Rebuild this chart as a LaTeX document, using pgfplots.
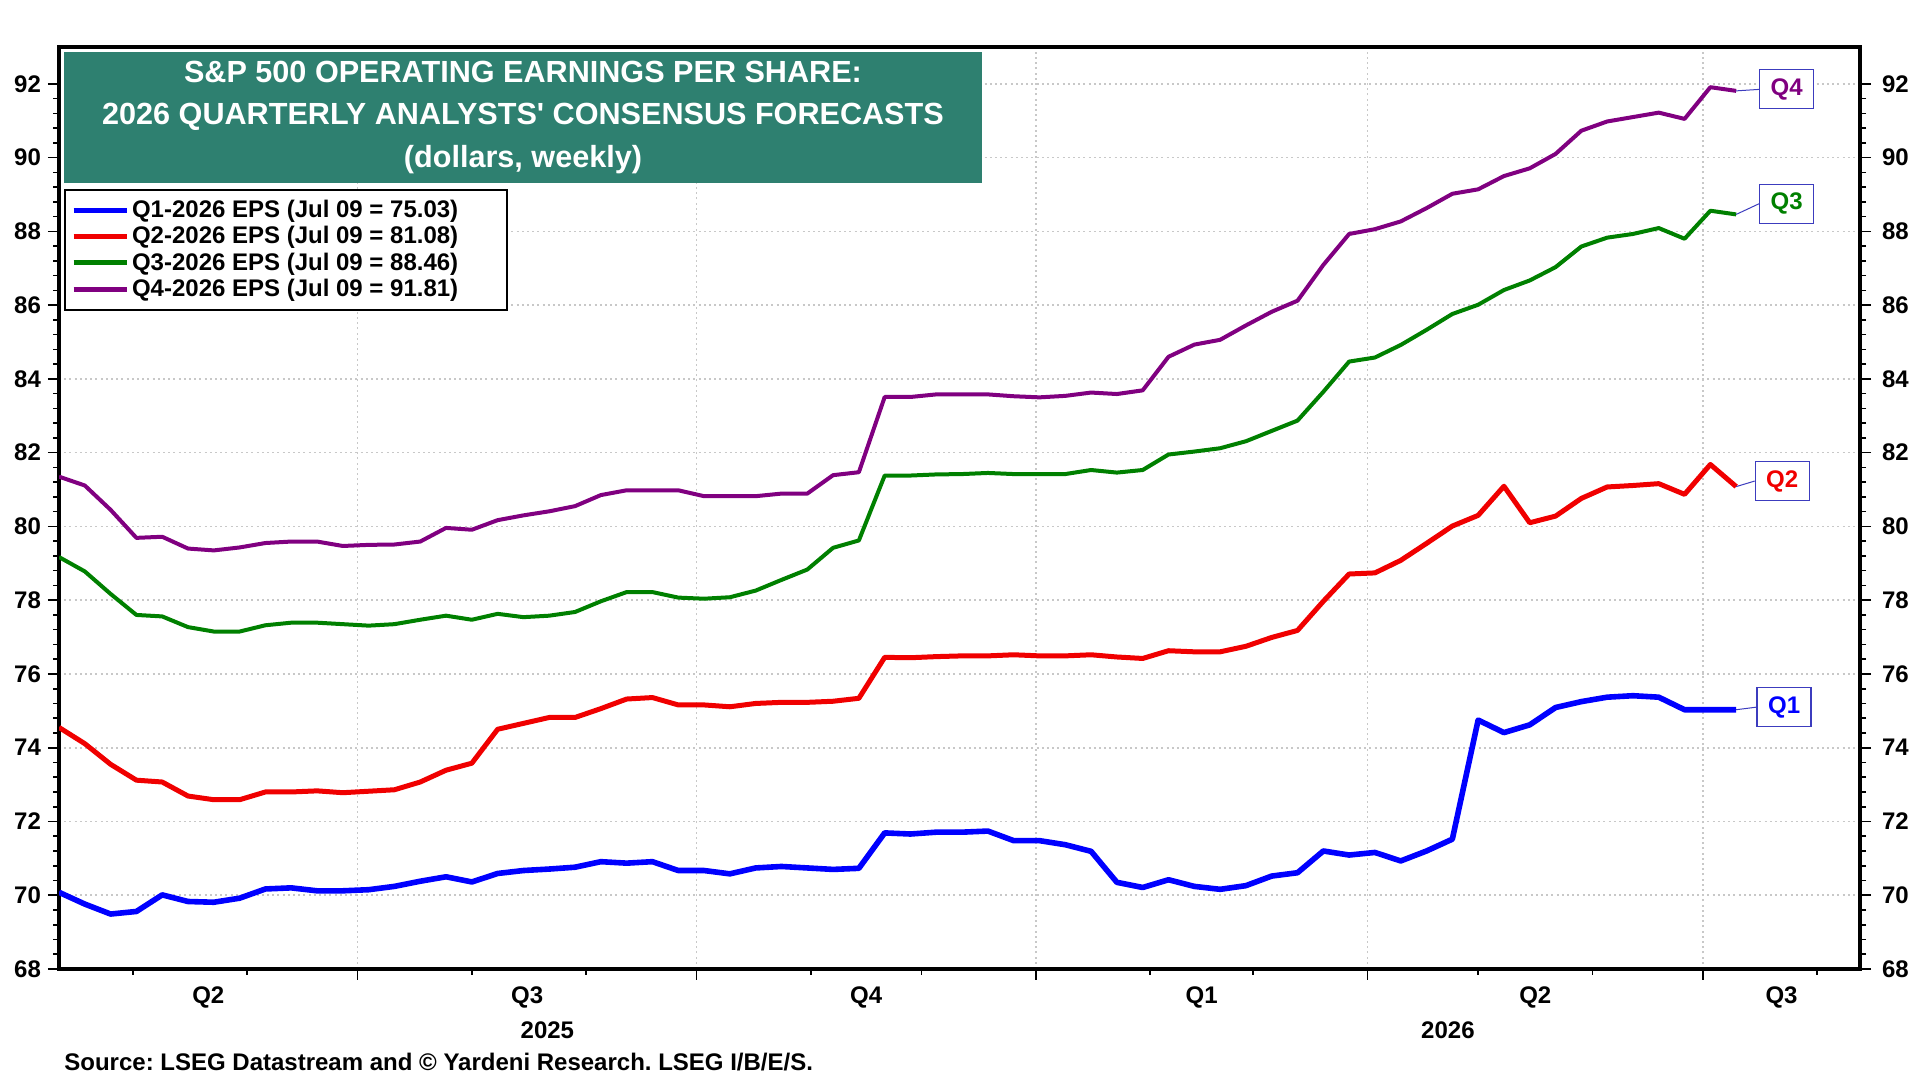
\documentclass[border=0pt]{standalone}
\usepackage{fontspec}
\setmainfont{Liberation Sans}
\usepackage{pgfplots}
\usepackage{pgfplotstable}
\pgfplotsset{compat=1.18}
\frenchspacing
\definecolor{teal1}{RGB}{46,128,112}
\definecolor{qblue}{RGB}{0,0,255}
\definecolor{qred}{RGB}{240,0,0}
\definecolor{qgreen}{RGB}{0,128,0}
\definecolor{qpurple}{RGB}{128,0,128}
\definecolor{boxblue}{RGB}{60,60,190}
\definecolor{gridgray}{RGB}{200,200,200}

\pgfplotstableread{
day q1 q2 q3 q4
100 70.08 74.55 79.17 81.35
107 69.76 74.11 78.78 81.11
114 69.49 73.55 78.17 80.45
121 69.56 73.12 77.60 79.69
128 70.01 73.07 77.56 79.72
135 69.83 72.69 77.27 79.40
142 69.81 72.59 77.15 79.35
149 69.92 72.59 77.15 79.43
156 70.17 72.80 77.32 79.55
163 70.20 72.80 77.39 79.59
170 70.12 72.83 77.39 79.59
177 70.12 72.78 77.35 79.47
184 70.15 72.82 77.31 79.50
191 70.24 72.86 77.35 79.51
198 70.38 73.07 77.47 79.59
205 70.50 73.39 77.58 79.96
212 70.36 73.58 77.47 79.91
219 70.59 74.50 77.63 80.17
226 70.67 74.66 77.54 80.30
233 70.71 74.82 77.58 80.41
240 70.76 74.82 77.68 80.55
247 70.91 75.06 77.97 80.85
254 70.87 75.32 78.22 80.98
261 70.91 75.36 78.22 80.98
268 70.67 75.16 78.07 80.98
275 70.67 75.16 78.04 80.82
282 70.58 75.11 78.08 80.82
289 70.74 75.20 78.26 80.82
296 70.78 75.23 78.55 80.89
303 70.74 75.23 78.83 80.89
310 70.70 75.26 79.42 81.39
317 70.73 75.34 79.62 81.47
324 71.69 76.45 81.38 83.51
331 71.66 76.44 81.38 83.51
338 71.71 76.47 81.41 83.58
345 71.71 76.49 81.42 83.58
352 71.74 76.49 81.45 83.58
359 71.48 76.52 81.42 83.53
366 71.48 76.49 81.42 83.50
373 71.37 76.49 81.42 83.54
380 71.19 76.52 81.53 83.63
387 70.35 76.46 81.46 83.59
394 70.21 76.42 81.53 83.69
401 70.42 76.63 81.95 84.60
408 70.24 76.60 82.03 84.93
415 70.16 76.60 82.12 85.06
422 70.26 76.75 82.31 85.45
429 70.52 76.99 82.59 85.82
436 70.61 77.18 82.87 86.12
443 71.20 77.97 83.65 87.09
450 71.09 78.71 84.47 87.93
457 71.16 78.74 84.58 88.06
464 70.93 79.08 84.92 88.27
471 71.20 79.54 85.33 88.63
478 71.52 80.01 85.76 89.02
485 74.75 80.30 86.01 89.14
492 74.41 81.09 86.41 89.50
499 74.62 80.10 86.67 89.71
506 75.09 80.28 87.03 90.10
513 75.25 80.76 87.59 90.73
520 75.37 81.07 87.83 90.98
527 75.41 81.11 87.93 91.10
534 75.37 81.16 88.09 91.22
541 75.03 80.87 87.80 91.05
548 75.03 81.68 88.56 91.91
555 75.03 81.08 88.46 91.81
}\eps

\begin{document}
\begin{tikzpicture}
\useasboundingbox (0,0) rectangle (960pt,540pt);
\pgfplotsset{common/.style={
  scale only axis, width=900.5pt, height=461pt,
  at={(29.5pt,55.5pt)}, anchor=south west,
  xmin=100, xmax=588.6, ymin=68, ymax=93,
  ytick={68,70,...,92}, minor y tick num=4,
  tick align=outside, major tick length=5.5pt, minor tick length=3pt,
  tick style={black, line width=0.8pt},
  yticklabel style={font=\fontsize{12}{13}\selectfont\bfseries},
  /pgf/number format/assume math mode=true,
}}
\begin{axis}[common, name=ax,
  axis line style={line width=2pt},
  xtick={181,273,365,455,546}, xticklabels={},
  minor xtick={120,151,212,243,304,334,396,424,485,516,577},
  xtick pos=bottom, ytick pos=left,
  xmajorgrids, ymajorgrids,
  grid style={gridgray, line width=0.8pt, dash pattern=on 1pt off 1.6pt},
  legend style={at={(0.0028,0.846)}, anchor=north west, draw=black, line width=1pt,
    fill=white, font=\fontsize{12}{13}\selectfont\bfseries,
    inner xsep=3pt, inner ysep=3.5pt, row sep=0pt,
    nodes={inner xsep=1.5pt, inner ysep=1.5pt}, cells={anchor=west}},
  legend image code/.code={\draw[#1, line width=2.5pt] (0pt,0pt) -- (26.5pt,0pt);},
]
\addplot[qblue, line width=2.8pt, line join=round] table[x=day, y=q1] {\eps};
\addlegendentry{Q1-2026 EPS (Jul 09 = 75.03)\rule{20pt}{0pt}}
\addplot[qred, line width=2.5pt, line join=round] table[x=day, y=q2] {\eps};
\addlegendentry{Q2-2026 EPS (Jul 09 = 81.08)\rule{20pt}{0pt}}
\addplot[qgreen, line width=2pt, line join=round] table[x=day, y=q3] {\eps};
\addlegendentry{Q3-2026 EPS (Jul 09 = 88.46)\rule{20pt}{0pt}}
\addplot[qpurple, line width=2pt, line join=round] table[x=day, y=q4] {\eps};
\addlegendentry{Q4-2026 EPS (Jul 09 = 91.81)\rule{20pt}{0pt}}

\coordinate (lq2a) at (axis cs:140.5,68);
\coordinate (lq3a) at (axis cs:227,68);
\coordinate (lq4a) at (axis cs:319,68);
\coordinate (lq1b) at (axis cs:410,68);
\coordinate (lq2b) at (axis cs:500.5,68);
\coordinate (lq3b) at (axis cs:567.3,68);
\coordinate (y25) at (axis cs:232.5,68);
\coordinate (y26) at (axis cs:476.8,68);

\tikzset{qbox/.style={draw=boxblue, fill=white, line width=0.6pt, minimum width=27pt,
  minimum height=19.5pt, inner sep=0pt, font=\fontsize{12}{13}\selectfont\bfseries}}
\node[qbox, text=qpurple] (b4) at (axis cs:568.7,91.85) {Q4};
\node[qbox, text=qgreen] (b3) at (axis cs:568.7,88.75) {Q3};
\node[qbox, text=qred] (b2) at (axis cs:567.5,81.23) {Q2};
\node[qbox, text=qblue] (b1) at (axis cs:568.0,75.10) {Q1};
\draw[boxblue, line width=0.5pt] (axis cs:555,91.81) -- (b4.west);
\draw[boxblue, line width=0.5pt] (axis cs:555,88.46) -- (b3.west);
\draw[boxblue, line width=0.5pt] (axis cs:555,81.08) -- (b2.west);
\draw[boxblue, line width=0.5pt] (axis cs:555,75.03) -- (b1.west);
\end{axis}

\begin{axis}[common, axis x line=none, axis y line*=right,
  ytick pos=right, yticklabel pos=right,
  axis line style={line width=2pt},
  yticklabel style={xshift=2pt}]
\addplot[draw=none] coordinates {(200,70)};
\end{axis}

\foreach \c/\t in {lq2a/Q2, lq3a/Q3, lq4a/Q4, lq1b/Q1, lq2b/Q2, lq3b/Q3}
  \node[font=\fontsize{12}{13}\selectfont\bfseries, yshift=-14pt] at (\c) {\t};
\node[font=\fontsize{12}{13}\selectfont\bfseries, yshift=-30.5pt] at (y25) {2025};
\node[font=\fontsize{12}{13}\selectfont\bfseries, yshift=-30.5pt] at (y26) {2026};

\node[fill=teal1, text=white, align=center, minimum width=459pt, minimum height=65.5pt,
  inner sep=0pt, font=\fontsize{15.3}{21.2}\selectfont\bfseries] at (261.5pt,481.25pt)
  {S\&P 500 OPERATING EARNINGS PER SHARE:\\2026 QUARTERLY ANALYSTS\textquotesingle\ CONSENSUS FORECASTS\\(dollars, weekly)};

\node[anchor=west, inner sep=0pt, font=\fontsize{12}{13}\selectfont\bfseries] at (32pt,9pt)
  {Source: LSEG Datastream and © Yardeni Research. LSEG I/B/E/S.};
\end{tikzpicture}
\end{document}
